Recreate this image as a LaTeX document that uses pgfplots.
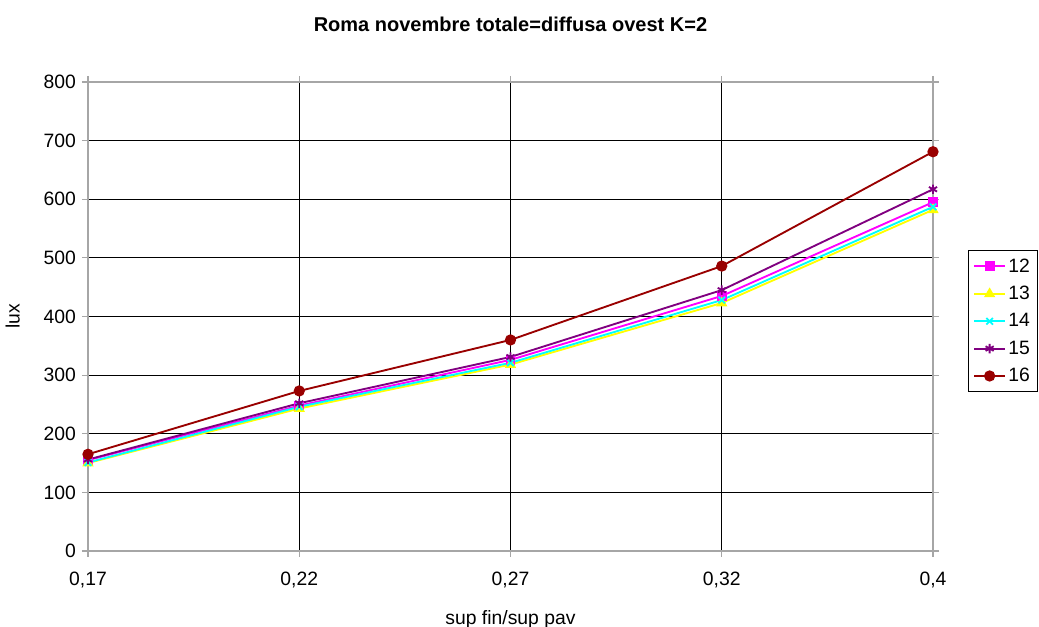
\documentclass[border=0pt]{standalone}
\usepackage{pgfplots}
\pgfplotsset{compat=1.18}
\usepackage{fontspec}
\setmainfont{Liberation Sans}

\definecolor{c12}{RGB}{255,0,255}
\definecolor{c13}{RGB}{255,255,0}
\definecolor{c14}{RGB}{0,255,255}
\definecolor{c15}{RGB}{128,0,128}
\definecolor{c16}{RGB}{153,0,0}

\begin{document}
\begin{tikzpicture}
\begin{axis}[
    scale only axis,
    width=633.75pt, height=351.75pt,
    xmin=0, xmax=4, ymin=0, ymax=800,
    xtick={0,1,2,3,4},
    xticklabels={{0,17},{0,22},{0,27},{0,32},{0,4}},
    ytick={0,100,...,800},
    grid=major,
    major grid style={black, line width=0.6pt},
    axis line style={gray!70, line width=0.8pt},
    tick align=outside,
    major tick length=4.5pt,
    tick style={gray!70, line width=0.8pt},
    tick label style={font=\fontsize{14.5}{17}\selectfont},
    xticklabel style={yshift=-8pt},
    yticklabel style={xshift=-1pt},
    /pgf/number format/assume math mode=true,
    xlabel={sup fin/sup pav},
    ylabel={lux},
    label style={font=\fontsize{14.5}{17}\selectfont},
    xlabel style={yshift=-10pt},
    ylabel style={yshift=11pt},
    title={\bfseries Roma novembre totale=diffusa ovest K=2},
    title style={font=\fontsize{15}{18}\selectfont, yshift=28pt},
    legend style={at={(1.0,0.49)}, anchor=west, xshift=26pt,
        font=\fontsize{14.5}{17}\selectfont, draw=black, line width=0.8pt,
        row sep=5pt, inner sep=4pt},
    legend cell align=left,
    legend image code/.code={\draw[mark repeat=2,mark phase=2] plot coordinates {(0cm,0cm) (0.4cm,0cm) (0.8cm,0cm)};},
    every axis plot/.append style={line width=1.4pt},
]
\addplot[c12, mark=square*, mark size=3pt] coordinates {(0,155) (1,248) (2,326) (3,435) (4,595)};
\addlegendentry{12}
\addplot[c13, mark=triangle*, mark size=3.5pt] coordinates {(0,150) (1,243) (2,318) (3,423) (4,582)};
\addlegendentry{13}
\addplot[c14, mark=x, mark size=3.5pt] coordinates {(0,151) (1,246) (2,321) (3,428) (4,587)};
\addlegendentry{14}
\addplot[c15, mark=asterisk, mark size=3.5pt] coordinates {(0,156) (1,252) (2,331) (3,445) (4,617)};
\addlegendentry{15}
\addplot[c16, mark=*, mark size=3.5pt] coordinates {(0,165) (1,273) (2,360) (3,486) (4,681)};
\addlegendentry{16}
\end{axis}
\pgfresetboundingbox
\path (current axis.south west) ++(-66pt,-57pt) coordinate (bl);
\path (current axis.north east) ++(79.5pt,61.5pt) coordinate (tr);
\path[use as bounding box] (bl) rectangle (tr);
\end{tikzpicture}
\end{document}
